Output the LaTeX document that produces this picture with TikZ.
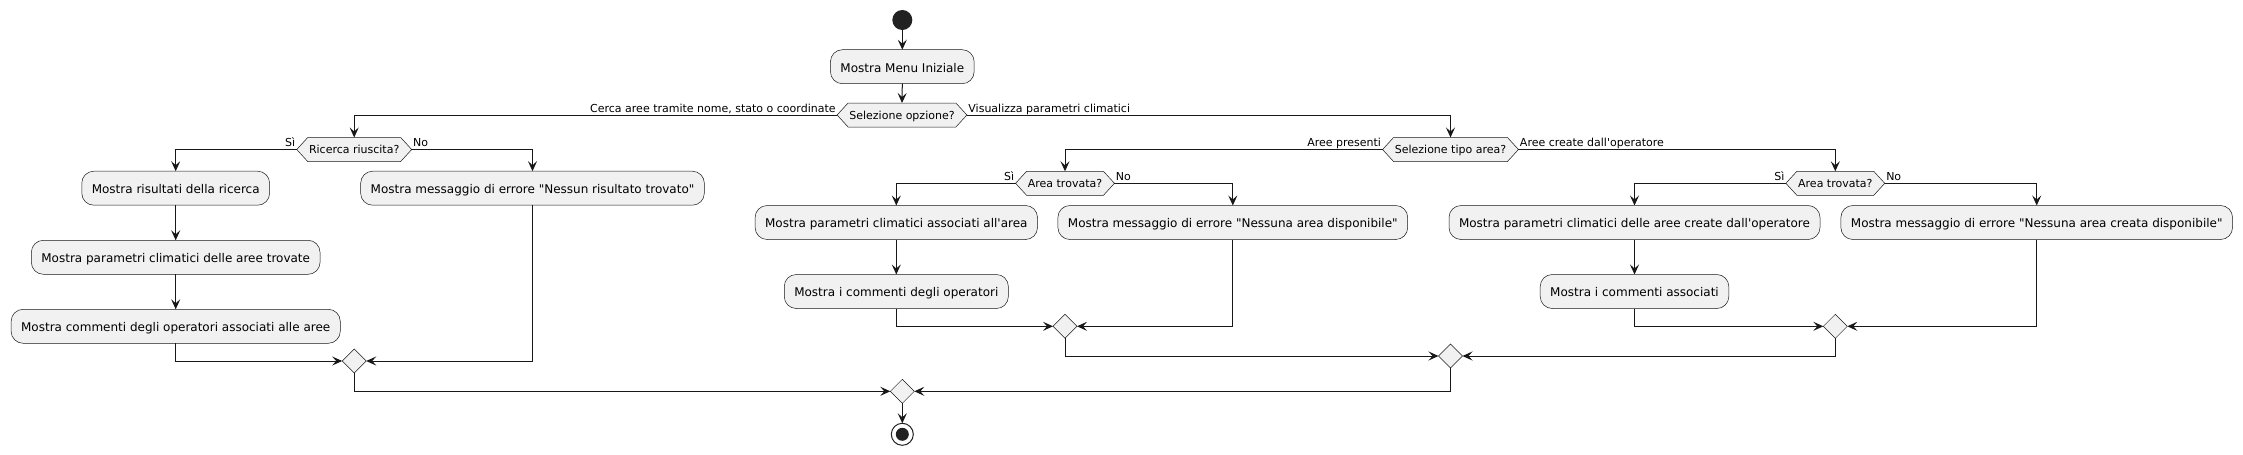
\documentclass[tikz,border=0pt]{standalone}
\usepackage{fontspec}
\setmainfont{DejaVu Sans}[Ligatures=TeXOff]
\usetikzlibrary{shapes.geometric,arrows.meta}
\definecolor{boxfill}{HTML}{F1F1F1}
\definecolor{linec}{HTML}{181818}
\definecolor{dotc}{HTML}{222222}
\newcommand{\boxfont}{\fontsize{12}{14}\selectfont}
\newcommand{\lblfont}{\fontsize{11}{13}\selectfont}
\pgfdeclarelayer{bg}
\pgfsetlayers{bg,main}
\newcommand{\hexback}[1]{%
  \begin{pgfonlayer}{bg}
    \path[hexshape] (#1.west) -- ([xshift=11pt]#1.north west) -- ([xshift=-11pt]#1.north east)
      -- (#1.east) -- ([xshift=-11pt]#1.south east) -- ([xshift=11pt]#1.south west) -- cycle;
  \end{pgfonlayer}}
\begin{document}
\begin{tikzpicture}[x=1pt,y=-1pt,
  actbox/.style={draw=linec, line width=0.5pt, fill=boxfill, rounded corners=12pt,
    minimum height=34pt, inner xsep=10pt, inner ysep=0pt, outer sep=0pt,
    font=\boxfont, text height=12pt, text depth=1.4pt},
  hexa/.style={rectangle, minimum height=24pt, inner xsep=12.3pt, inner ysep=0pt,
    outer sep=0pt, font=\lblfont, text height=10pt, text depth=2pt},
  hexshape/.style={draw=linec, line width=0.5pt, fill=boxfill},
  merge/.style={diamond, draw=linec, line width=0.5pt, fill=boxfill,
    minimum width=24pt, minimum height=24pt, inner sep=0pt, outer sep=0pt},
  flow/.style={draw=linec, line width=1pt, -{Stealth[length=10pt,width=9pt,inset=4pt]}},
  lblL/.style={anchor=base east, inner sep=0pt, xshift=-1pt, yshift=3pt, font=\lblfont},
  lblR/.style={anchor=base west, inner sep=0pt, xshift=1pt, yshift=3pt, font=\lblfont}
]
\begin{pgfonlayer}{bg}
\fill[white] (0,0) rectangle (2243,455);
\end{pgfonlayer}
\useasboundingbox (0,0) rectangle (2243,455);

% start
\node[circle, fill=dotc, minimum size=20pt, inner sep=0pt, outer sep=0pt] (start) at (902.3,20) {};
\node[actbox] (menu) at (902.3,66.7) {Mostra Menu Iniziale};
\node[hexa] (sel) at (902,115) {Selezione opzione?};

% left branch
\node[hexa] (ric) at (354.2,149.5) {Ricerca riuscita?};
\node[actbox] (rsi) at (175.7,188.2) {Mostra risultati della ricerca};
\node[actbox] (rpar) at (175.7,257.3) {Mostra parametri climatici delle aree trovate};
\node[actbox] (rcom) at (175.7,326.3) {Mostra commenti degli operatori associati alle aree};
\node[actbox] (rno) at (532.5,188.2) {Mostra messaggio di errore "Nessun risultato trovato"};
\node[merge] (m1) at (354.2,361) {};

% right branch
\node[hexa] (tipo) at (1450.5,149.5) {Selezione tipo area?};
\node[hexa] (at1) at (1065,183.3) {Area trovata?};
\node[actbox] (a1par) at (896.3,222.5) {Mostra parametri climatici associati all'area};
\node[actbox] (a1com) at (896.3,291.5) {Mostra i commenti degli operatori};
\node[actbox] (a1no) at (1232.8,222.5) {Mostra messaggio di errore "Nessuna area disponibile"};
\node[merge] (m2) at (1065,326.3) {};

\node[hexa] (at2) at (1835.3,183.3) {Area trovata?};
\node[actbox] (a2par) at (1634.5,222.5) {Mostra parametri climatici delle aree create dall'operatore};
\node[actbox] (a2com) at (1634.5,291.5) {Mostra i commenti associati};
\node[actbox] (a2no) at (2036.7,222.5) {Mostra messaggio di errore "Nessuna area creata disponibile"};
\node[merge] (m3) at (1835.3,326.3) {};

\node[merge] (m4) at (1450.5,356) {};
\node[merge] (m5) at (902.3,391.3) {};

% end
\node[circle, draw=dotc, line width=1pt, fill=white, minimum size=22pt, inner sep=0pt, outer sep=0pt] (stop) at (902.3,434.3) {};
\node[circle, fill=dotc, minimum size=13pt, inner sep=0pt] (stopin) at (stop.center) {};

% hexagon outlines behind their texts
\hexback{sel}
\hexback{ric}
\hexback{tipo}
\hexback{at1}
\hexback{at2}

% connectors
\draw[flow] (start.south) -- (menu.north);
\draw[flow] (menu.south) -- (sel.north);
\draw[flow] (sel.west) node[lblL]{Cerca aree tramite nome, stato o coordinate} -| (ric.north);
\draw[flow] (sel.east) node[lblR]{Visualizza parametri climatici} -| (tipo.north);

\draw[flow] (ric.west) node[lblL]{Sì} -| (rsi.north);
\draw[flow] (ric.east) node[lblR]{No} -| (rno.north);
\draw[flow] (rsi.south) -- (rpar.north);
\draw[flow] (rpar.south) -- (rcom.north);
\draw[flow] (rcom.south) |- (m1.west);
\draw[flow] (rno.south) |- (m1.east);

\draw[flow] (tipo.west) node[lblL]{Aree presenti} -| (at1.north);
\draw[flow] (tipo.east) node[lblR]{Aree create dall'operatore} -| (at2.north);

\draw[flow] (at1.west) node[lblL]{Sì} -| (a1par.north);
\draw[flow] (at1.east) node[lblR]{No} -| (a1no.north);
\draw[flow] (a1par.south) -- (a1com.north);
\draw[flow] (a1com.south) |- (m2.west);
\draw[flow] (a1no.south) |- (m2.east);

\draw[flow] (at2.west) node[lblL]{Sì} -| (a2par.north);
\draw[flow] (at2.east) node[lblR]{No} -| (a2no.north);
\draw[flow] (a2par.south) -- (a2com.north);
\draw[flow] (a2com.south) |- (m3.west);
\draw[flow] (a2no.south) |- (m3.east);

\draw[flow] (m2.south) |- (m4.west);
\draw[flow] (m3.south) |- (m4.east);
\draw[flow] (m1.south) |- (m5.west);
\draw[flow] (m4.south) |- (m5.east);
\draw[flow] (m5.south) -- (stop.north);
\end{tikzpicture}
\end{document}
